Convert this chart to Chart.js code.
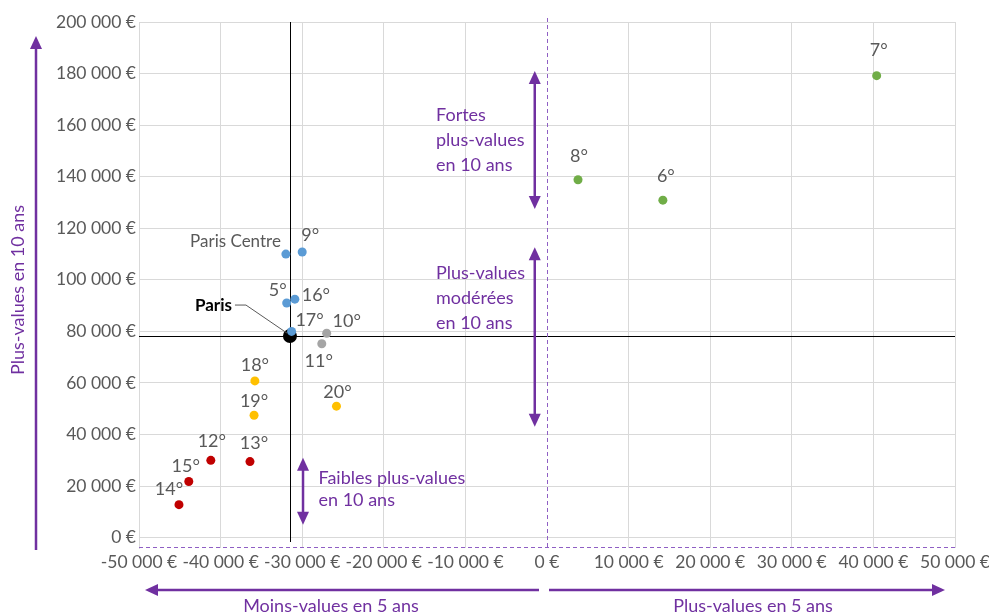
<!DOCTYPE html>
<html>
<head>
<meta charset="utf-8">
<script src="https://cdn.jsdelivr.net/npm/chart.js@4.4.0/dist/chart.umd.min.js"></script>
<style>
  html, body { margin: 0; padding: 0; background: #fff; }
  #wrap { width: 989px; height: 615px; position: relative; }
</style>
</head>
<body>
<div id="wrap"><canvas id="myChart"></canvas></div>
<script>
// données
const arrondissements = ['Paris Centre', '9°', '5°', '16°', '17°', '10°', '11°', '18°', '19°', '20°', '12°', '13°', '14°', '15°', '6°', '7°', '8°', 'Paris'];
const plusValues5ans = [-32000, -30000, -31900, -30900, -31300, -27000, -27600, -35800, -35900, -25800, -41200, -36400, -45100, -43900, 14200, 40400, 3800, -31500];
const plusValues10ans = [110000, 110800, 91000, 92500, 80000, 79300, 75200, 60800, 47500, 51000, 30000, 29500, 12800, 21800, 130900, 179200, 138800, 78200];
const groupes = ['centre', 'centre', 'centre', 'centre', 'centre', 'gris', 'gris', 'jaune', 'jaune', 'jaune', 'rouge', 'rouge', 'rouge', 'rouge', 'vert', 'vert', 'vert', 'paris'];
const yTicks = [0, 20000, 40000, 60000, 80000, 100000, 120000, 140000, 160000, 180000, 200000];

const couleurs = { centre: '#5B9BD5', gris: '#A5A5A5', jaune: '#FFC000', rouge: '#C00000', vert: '#70AD47', paris: '#000000' };
const VIOLET = '#7030A0';
const VIOLET_CLAIR = '#8F5FC4';
const GRIS_TEXTE = '#595959';
const POLICE = 'Lato, "Liberation Sans", sans-serif';

// décalage des étiquettes [dx, dy, alignement]
const etiquettes = {
    'Paris Centre': [-5, -13, 'right'], '9°': [8, -17, 'center'], '5°': [-9, -13, 'center'],
    '16°': [21, -4, 'center'], '17°': [18, -11, 'center'], '10°': [20, -12, 'center'],
    '11°': [-3, 17, 'center'], '18°': [0, -16, 'center'], '19°': [0, -14, 'center'],
    '20°': [1, -14, 'center'], '12°': [1, -19, 'center'], '13°': [4, -18, 'center'],
    '14°': [-10, -15, 'center'], '15°': [-3, -15, 'center'], '6°': [3, -24, 'center'],
    '7°': [2, -25, 'center'], '8°': [1, -24, 'center'], 'Paris': [-58, -31, 'right']
};

function euros(v) {
    const s = String(Math.abs(v)).replace(/\B(?=(\d{3})+(?!\d))/g, ' ');
    return (v < 0 ? '-' : '') + s + ' €';
}

function construireDatasets() {
    const ordre = ['centre', 'gris', 'jaune', 'rouge', 'vert', 'paris'];
    return ordre.map(g => {
        const pts = [];
        const noms = [];
        groupes.forEach((gr, i) => {
            if (gr === g) {
                pts.push({ x: plusValues5ans[i], y: plusValues10ans[i] });
                noms.push(arrondissements[i]);
            }
        });
        return {
            label: g,
            noms: noms,
            data: pts,
            backgroundColor: couleurs[g],
            borderWidth: 0,
            pointRadius: g === 'paris' ? 7 : 4.5,
            pointHoverRadius: g === 'paris' ? 7 : 4.5
        };
    });
}

function ligne(ctx, x1, y1, x2, y2) {
    ctx.beginPath();
    ctx.moveTo(x1, y1);
    ctx.lineTo(x2, y2);
    ctx.stroke();
}

function pointe(ctx, x, y, ang) {
    const L = 13, W = 6;
    ctx.beginPath();
    ctx.moveTo(x, y);
    ctx.lineTo(x - L * Math.cos(ang) + W * Math.sin(ang), y - L * Math.sin(ang) - W * Math.cos(ang));
    ctx.lineTo(x - L * Math.cos(ang) - W * Math.sin(ang), y - L * Math.sin(ang) + W * Math.cos(ang));
    ctx.closePath();
    ctx.fill();
}

function fleche(ctx, x1, y1, x2, y2, deux) {
    const ang = Math.atan2(y2 - y1, x2 - x1);
    ctx.save();
    ctx.strokeStyle = VIOLET;
    ctx.fillStyle = VIOLET;
    ctx.lineWidth = 2.5;
    const sx = deux ? x1 + 10 * Math.cos(ang) : x1, sy = deux ? y1 + 10 * Math.sin(ang) : y1;
    ligne(ctx, sx, sy, x2 - 10 * Math.cos(ang), y2 - 10 * Math.sin(ang));
    pointe(ctx, x2, y2, ang);
    if (deux) pointe(ctx, x1, y1, ang + Math.PI);
    ctx.restore();
}

function texteViolet(ctx, lignes, x, y, pas, align) {
    ctx.save();
    ctx.font = '18px ' + POLICE;
    ctx.fillStyle = VIOLET;
    ctx.textAlign = align || 'left';
    ctx.textBaseline = 'middle';
    lignes.forEach((t, k) => ctx.fillText(t, x, y + k * pas));
    ctx.restore();
}

const decor = {
    id: 'decor',
    beforeDatasetsDraw(chart) {
        const { ctx, chartArea: a, scales: { x, y } } = chart;
        const i = arrondissements.indexOf('Paris');
        const px = Math.round(x.getPixelForValue(plusValues5ans[i])) + 0.5;
        const py = Math.round(y.getPixelForValue(plusValues10ans[i])) + 0.5;
        ctx.save();
        ctx.strokeStyle = '#000';
        ctx.lineWidth = 1;
        ligne(ctx, px, a.top, px, a.bottom - 6);
        ligne(ctx, a.left, py, a.right, py);
        // axes en pointillés violets
        ctx.strokeStyle = VIOLET_CLAIR;
        ctx.setLineDash([4, 3]);
        const x0 = Math.round(x.getPixelForValue(0)) + 0.5;
        ligne(ctx, x0, a.top - 4, x0, a.bottom);
        const yb = Math.round(a.bottom) - 0.5;
        ligne(ctx, a.left, yb, a.right, yb);
        ctx.restore();
    },
    afterDatasetsDraw(chart) {
        const { ctx } = chart;
        ctx.save();
        chart.data.datasets.forEach((ds, d) => {
            const meta = chart.getDatasetMeta(d);
            meta.data.forEach((el, j) => {
                const nom = ds.noms[j];
                const [dx, dy, al] = etiquettes[nom];
                ctx.textAlign = al;
                ctx.textBaseline = 'middle';
                if (nom === 'Paris') {
                    ctx.font = 'bold 17px ' + POLICE;
                    ctx.fillStyle = '#000';
                    ctx.fillText(nom, el.x + dx, el.y + dy);
                    ctx.strokeStyle = '#595959';
                    ctx.lineWidth = 1;
                    ctx.beginPath();
                    ctx.moveTo(el.x + dx + 3, el.y + dy);
                    ctx.lineTo(el.x + dx + 14, el.y + dy);
                    ctx.lineTo(el.x - 3, el.y - 3);
                    ctx.stroke();
                } else {
                    ctx.font = (nom === 'Paris Centre' ? '17px ' : '18px ') + POLICE;
                    ctx.fillStyle = GRIS_TEXTE;
                    ctx.fillText(nom, el.x + dx, el.y + dy);
                }
            });
        });
        ctx.restore();
    },
    afterDraw(chart) {
        const { ctx, chartArea: a, scales: { x, y } } = chart;
        // flèches dans le graphique
        const xf = x.getPixelForValue(-1500);
        fleche(ctx, xf, y.getPixelForValue(127500), xf, y.getPixelForValue(181000), true);
        fleche(ctx, xf, y.getPixelForValue(43000), xf, y.getPixelForValue(112600), true);
        const xa = x.getPixelForValue(-29900);
        fleche(ctx, xa, y.getPixelForValue(5000), xa, y.getPixelForValue(31000), true);

        const xt = x.getPixelForValue(-13600);
        texteViolet(ctx, ['Fortes', 'plus-values', 'en 10 ans'], xt, y.getPixelForValue(164000), 25);
        texteViolet(ctx, ['Plus-values', 'modérées', 'en 10 ans'], xt, y.getPixelForValue(102500), 25);
        texteViolet(ctx, ['Faibles plus-values', 'en 10 ans'], x.getPixelForValue(-28000), y.getPixelForValue(23000), 22);

        // flèches des axes
        fleche(ctx, 36, a.bottom + 2, 36, 36, false);
        ctx.save();
        ctx.translate(18, 290);
        ctx.rotate(-Math.PI / 2);
        texteViolet(ctx, ['Plus-values en 10 ans'], 0, 0, 0, 'center');
        ctx.restore();

        const x0 = x.getPixelForValue(0);
        fleche(ctx, x0 - 8, 590, a.left + 6, 590, false);
        fleche(ctx, x0 + 2, 590, a.right - 10, 590, false);
        texteViolet(ctx, ['Moins-values en 5 ans'], (a.left + x0) / 2 - 12, 606, 0, 'center');
        texteViolet(ctx, ['Plus-values en 5 ans'], (x0 + a.right) / 2 + 2, 606, 0, 'center');
    }
};

const grille = c => (c.tick && c.tick.value === 0 ? 'rgba(0,0,0,0)' : '#D9D9D9');

const ctx = document.getElementById('myChart').getContext('2d');
const grafica = new Chart(ctx, {
    type: 'scatter',
    data: { datasets: construireDatasets() },
    options: {
        responsive: true,
        maintainAspectRatio: false,
        animation: false,
        layout: { padding: { top: 22, right: 34, left: 0, bottom: 0 } },
        plugins: {
            legend: { display: false },
            tooltip: { enabled: false }
        },
        scales: {
            x: {
                type: 'linear',
                min: -50000,
                max: 50000,
                afterFit: s => { s.height = 67; s.paddingLeft = 0; s.paddingRight = 0; },
                ticks: {
                    stepSize: 10000,
                    autoSkip: false,
                    maxRotation: 0,
                    padding: 4,
                    color: GRIS_TEXTE,
                    font: { size: 17.5, family: POLICE },
                    callback: v => euros(v)
                },
                grid: { color: grille, drawTicks: false },
                border: { display: false }
            },
            y: {
                type: 'linear',
                min: -4000,
                max: 200000,
                afterFit: s => { s.width = 139; s.paddingTop = 0; s.paddingBottom = 0; },
                afterBuildTicks: s => { s.ticks = yTicks.map(v => ({ value: v })); },
                ticks: {
                    padding: 3,
                    color: GRIS_TEXTE,
                    font: { size: 17.5, family: POLICE },
                    callback: v => euros(v)
                },
                grid: { color: '#D9D9D9', drawTicks: false },
                border: { color: '#D9D9D9' }
            }
        }
    },
    plugins: [decor]
});
</script>
</body>
</html>
